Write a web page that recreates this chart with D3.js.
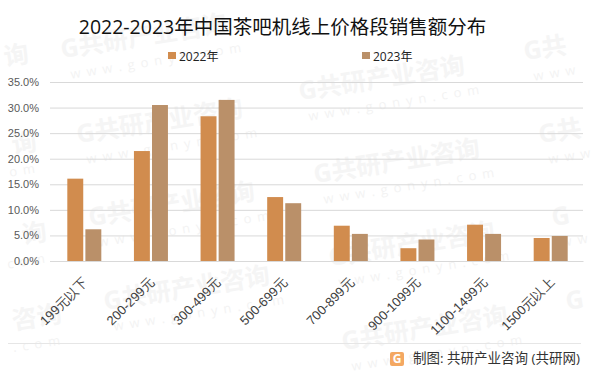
<!DOCTYPE html>
<html>
<head>
<meta charset="utf-8">
<script src="https://cdn.jsdelivr.net/npm/d3@7"></script>
<style>
  html, body { margin: 0; padding: 0; background: #fff; }
  svg { display: block; font-family: "Open Sans", "Noto Sans CJK SC", sans-serif; }
</style>
</head>
<body>
<div id="chart"></div>
<script>
const categories = ['199元以下', '200-299元', '300-499元', '500-699元', '700-899元', '900-1099元', '1100-1499元', '1500元以上']
const years = ['2022年', '2023年']
const values2022 = [16.1, 21.5, 28.3, 12.5, 6.9, 2.5, 7.1, 4.5]
const values2023 = [6.2, 30.5, 31.5, 11.3, 5.3, 4.2, 5.3, 4.9]
const yTicks = [0, 5, 10, 15, 20, 25, 30, 35]

const width = 601
const height = 376
const margin = { top: 82, right: 18, bottom: 115, left: 50 }
const colors = ['#d18c4e', '#ba9069']

// Watermark stamps: x, y, main text, url text, anchor
const stamps = [
  [62, 58, 'G共研产业咨询', 'www.gonyn.com', 'start'],
  [78, 143, 'G共研产业咨询', 'www.gonyn.com', 'start'],
  [90, 226, 'G共研产业咨询', 'www.gonyn.com', 'start'],
  [105, 310, 'G共研产业咨询', 'www.gonyn.com', 'start'],
  [300, 100, 'G共研产业咨询', 'www.gonyn.com', 'start'],
  [315, 183, 'G共研产业咨询', 'www.gonyn.com', 'start'],
  [330, 266, 'G共研产业咨询', 'www.gonyn.com', 'start'],
  [343, 350, 'G共研产业咨询', 'www.gonyn.com', 'start'],
  [525, 60, 'G共', 'www', 'start'],
  [540, 143, 'G共', 'www', 'start'],
  [553, 226, 'G', 'ww', 'start'],
  [567, 310, 'G', '', 'start'],
  [30, 62, '询', '', 'end'],
  [38, 150, '询', 'om', 'end'],
  [48, 240, '询', 'com', 'end'],
  [63, 322, '咨询', '.com', 'end']
]

const svg = d3.select('#chart').append('svg')
  .attr('width', width)
  .attr('height', height)

// Watermark sits behind everything
const wm = svg.append('g').selectAll('g').data(stamps).join('g')
  .attr('transform', d => `translate(${d[0]},${d[1]}) rotate(-9)`)
wm.append('text')
  .attr('text-anchor', d => d[4])
  .attr('font-size', 25)
  .attr('font-weight', 700)
  .attr('fill', '#f5f5f5')
  .text(d => d[2])
wm.append('text')
  .attr('x', d => d[4] === 'start' ? 6 : 0)
  .attr('y', 22)
  .attr('text-anchor', d => d[4])
  .attr('font-size', 13)
  .attr('letter-spacing', 6)
  .attr('fill', '#f3f3f3')
  .text(d => d[3])

const x = d3.scaleBand()
  .domain(categories)
  .range([margin.left, width - margin.right])

const y = d3.scaleLinear()
  .domain([0, 35])
  .range([height - margin.bottom, margin.top])

const inner = d3.scaleBand()
  .domain(years)
  .range([0, 34])
  .paddingInner(0.118)

// Gridlines and y labels
const yAxis = svg.append('g')
  .attr('transform', `translate(${margin.left},0)`)
  .call(d3.axisLeft(y).tickValues(yTicks).tickSize(-(width - margin.left - margin.right)).tickPadding(11).tickFormat(d => d.toFixed(1) + '%'))
yAxis.select('.domain').remove()
yAxis.selectAll('line').attr('stroke', '#d9d9d9').attr('stroke-width', 1)
yAxis.selectAll('text').attr('font-size', 11).attr('fill', '#595959')

// Bars
const series = [values2022, values2023]
series.forEach((vals, s) => {
  svg.append('g').selectAll('rect').data(vals).join('rect')
    .attr('x', (d, i) => x(categories[i]) + x.bandwidth() / 2 - 16 + inner(years[s]))
    .attr('y', d => y(d))
    .attr('width', inner.bandwidth())
    .attr('height', d => y(0) - y(d))
    .attr('fill', colors[s])
})

// Category labels
const xAxis = svg.append('g')
  .attr('transform', `translate(0,${y(0)})`)
  .call(d3.axisBottom(x).tickSize(0))
xAxis.select('.domain').attr('stroke', '#d9d9d9')
xAxis.selectAll('text')
  .attr('font-size', 13)
  .attr('fill', '#404040')
  .attr('text-anchor', 'end')
  .attr('dy', 0)
  .attr('transform', 'translate(3,20) rotate(-45)')

// Title
svg.append('text')
  .attr('x', 282.5)
  .attr('y', 34)
  .attr('text-anchor', 'middle')
  .attr('font-size', 19.5)
  .attr('fill', '#111')
  .text('2022-2023年中国茶吧机线上价格段销售额分布')

// Legend
const legendX = [168, 362]
years.forEach((name, i) => {
  svg.append('rect')
    .attr('x', legendX[i])
    .attr('y', 52)
    .attr('width', 8)
    .attr('height', 7)
    .attr('fill', colors[i])
  svg.append('text')
    .attr('x', legendX[i] + 11)
    .attr('y', 61)
    .attr('font-size', 12)
    .attr('fill', '#222')
    .text(name)
})

// Footer
svg.append('line')
  .attr('x1', 8).attr('x2', 581)
  .attr('y1', 343.5).attr('y2', 343.5)
  .attr('stroke', '#e6e6e6')
svg.append('rect')
  .attr('x', 390).attr('y', 352)
  .attr('width', 14).attr('height', 14)
  .attr('rx', 2)
  .attr('fill', '#f4a862')
svg.append('text')
  .attr('x', 397).attr('y', 363)
  .attr('text-anchor', 'middle')
  .attr('font-size', 12)
  .attr('font-weight', 700)
  .attr('fill', '#fff')
  .text('G')
svg.append('text')
  .attr('x', 413).attr('y', 363)
  .attr('font-size', 13.5)
  .attr('fill', '#333')
  .text('制图: 共研产业咨询 (共研网)')
</script>
</body>
</html>
